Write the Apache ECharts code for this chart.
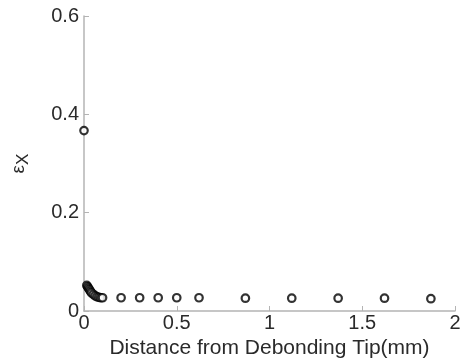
<!DOCTYPE html>
<html>
<head>
<meta charset="utf-8">
<script src="https://cdn.jsdelivr.net/npm/echarts@6/dist/echarts.min.js"></script>
<style>
  html, body { margin: 0; padding: 0; background: #fff; }
  #chart { width: 465px; height: 358px; }
</style>
</head>
<body>
<div id="chart"></div>
<script>
// distance from debonding tip (mm) and strain values
var distance = [0, 0.015, 0.02, 0.025, 0.03, 0.035, 0.04, 0.05, 0.06, 0.07, 0.08, 0.09, 0.1, 0.2, 0.3, 0.4, 0.5, 0.62, 0.87, 1.12, 1.37, 1.62, 1.87];
var strainX = [0.367, 0.052, 0.049, 0.046, 0.043, 0.04, 0.037, 0.034, 0.031, 0.029, 0.028, 0.027, 0.027, 0.027, 0.027, 0.027, 0.027, 0.027, 0.026, 0.026, 0.026, 0.026, 0.025];
var xTicks = [0, 0.5, 1, 1.5, 2];
var yTicks = [0, 0.2, 0.4, 0.6];

var points = distance.map(function (d, i) { return [d, strainX[i]]; });

var myChart = echarts.init(document.getElementById('chart'));
var axisGrey = '#b4b4b4';
var textColor = '#2a2a2a';
var font = 'Liberation Sans';

var option = {
  backgroundColor: '#fff',
  animation: false,
  grid: { left: 84, right: 10, top: 16, bottom: 47, containLabel: false, outerBoundsMode: 'none' },
  xAxis: {
    type: 'value',
    min: 0, max: 2, interval: 0.5,
    name: 'Distance from Debonding Tip(mm)',
    nameLocation: 'middle',
    nameGap: 22,
    nameTextStyle: { color: textColor, fontSize: 21, fontFamily: font },
    axisLine: { show: true, lineStyle: { color: axisGrey, width: 1.5 } },
    axisTick: { show: true, inside: true, length: 5, lineStyle: { color: axisGrey } },
    axisLabel: {
      color: textColor, fontSize: 20, fontFamily: font, margin: 2,
      formatter: function (v) { return xTicks.indexOf(v) >= 0 ? String(v) : ''; }
    },
    splitLine: { show: false }
  },
  yAxis: {
    type: 'value',
    min: 0, max: 0.6, interval: 0.2,
    name: '{a|ε}{b|X}',
    nameLocation: 'middle',
    nameRotate: 90,
    nameGap: 53,
    nameTextStyle: {
      color: textColor,
      rich: {
        a: { fontSize: 19, fontFamily: font, color: textColor, lineHeight: 24 },
        b: { fontSize: 17, fontFamily: font, color: textColor, padding: [9, 0, 0, 0], lineHeight: 24 }
      }
    },
    axisLine: { show: true, lineStyle: { color: axisGrey, width: 1.5 } },
    axisTick: { show: true, inside: true, length: 5, lineStyle: { color: axisGrey } },
    axisLabel: {
      color: textColor, fontSize: 20, fontFamily: font, margin: 5,
      formatter: function (v) { return yTicks.indexOf(v) >= 0 ? String(v) : ''; }
    },
    splitLine: { show: false }
  },
  series: [{
    type: 'scatter',
    data: points,
    symbol: 'circle',
    symbolSize: 7.5,
    itemStyle: { color: '#fff', borderColor: '#000', borderWidth: 2.2 }
  }]
};
myChart.setOption(option);
</script>
</body>
</html>
